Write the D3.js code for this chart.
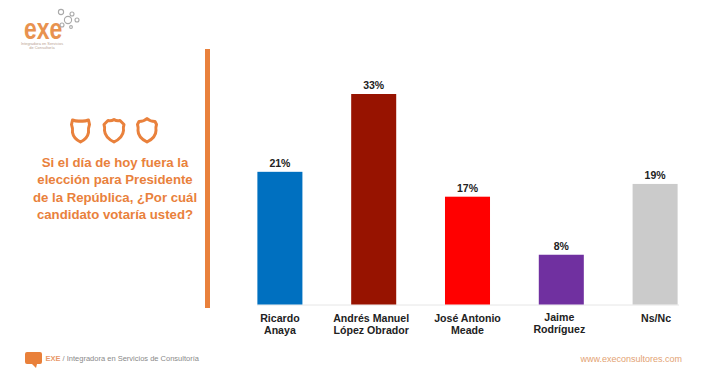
<!DOCTYPE html>
<html>
<head>
<meta charset="utf-8">
<script src="https://cdn.jsdelivr.net/npm/d3@7"></script>
<style>
  html, body { margin: 0; padding: 0; background: #fff; }
  text { font-family: "Liberation Sans", Arial, sans-serif; }
</style>
</head>
<body>
<div id="chart"></div>
<script>
const candidates = [["Ricardo", "Anaya"], ["Andrés Manuel", "López Obrador"], ["José Antonio", "Meade"], ["Jaime", "Rodríguez"], ["Ns/Nc"]];
const voteLabels = ["21%", "33%", "17%", "8%", "19%"];
// bar heights, a bit finer than the rounded labels
const votes = [20.8, 33, 16.9, 7.8, 18.9];
const barColors = ["#0070c0", "#971300", "#ff0000", "#7030a0", "#cbcbcb"];
const questionLines = ["Si el día de hoy fuera la", "elección para Presidente", "de la República, ¿Por cuál", "candidato votaría usted?"];
const orange = "#e9813c";

const outerWidth = 720, outerHeight = 372;
const svg = d3.select("#chart").append("svg")
    .attr("width", outerWidth)
    .attr("height", outerHeight)
    .style("display", "block");

// bars
const x = d3.scaleBand()
    .domain(d3.range(votes.length))
    .range([233, 702])
    .paddingInner(0.52)
    .paddingOuter(0.26);

const y = d3.scaleLinear()
    .domain([0, 33])
    .range([304.5, 94]);

svg.append("line")
    .attr("x1", 257).attr("x2", 679)
    .attr("y1", 305).attr("y2", 305)
    .attr("stroke", "#e6e6e6")
    .attr("stroke-width", 1);

svg.append("g")
  .selectAll("rect")
    .data(votes)
  .enter().append("rect")
    .attr("x", (d, i) => x(i))
    .attr("y", d => y(d))
    .attr("width", x.bandwidth())
    .attr("height", d => y(0) - y(d))
    .attr("fill", (d, i) => barColors[i]);

svg.append("g")
  .selectAll("text")
    .data(votes)
  .enter().append("text")
    .attr("x", (d, i) => x(i) + x.bandwidth() / 2)
    .attr("y", d => y(d) - 5)
    .attr("text-anchor", "middle")
    .attr("font-size", "10.5px")
    .attr("font-weight", "bold")
    .attr("fill", "#222")
    .text((d, i) => voteLabels[i]);

// the labels are not quite centred under the bars in the original
const labelShift = [0, -2.5, 0, -2, 1];

const labels = svg.append("g")
  .selectAll("text")
    .data(candidates)
  .enter().append("text")
    .attr("text-anchor", "middle")
    .attr("font-size", "10.6px")
    .attr("font-weight", "bold")
    .attr("fill", "#222");

labels.each(function(lines, i) {
  const top = i == 3 ? 320.5 : 321.5;
  d3.select(this).selectAll("tspan")
      .data(lines)
    .enter().append("tspan")
      .attr("x", x(i) + x.bandwidth() / 2 + labelShift[i])
      .attr("y", (d, j) => top + j * (i == 3 ? 12 : 12.5))
      .text(d => d);
});

// orange divider
svg.append("rect")
    .attr("x", 205).attr("y", 49)
    .attr("width", 5).attr("height", 259)
    .attr("fill", orange);

// shield icons, each one a little different
const shields = [
  { cx: 80.5, d: "M-8,-10.5 Q-4,-9 0,-9.5 Q4,-9 8,-10.5 L9,-6 Q7.5,-2 8,2 Q7,8 0,11.5 Q-7,8 -8,2 Q-7.5,-2 -9,-6 Z" },
  { cx: 114, d: "M-6,-10 Q-3,-9 0,-11 Q3,-9 6,-10 L10,-6 Q9,-3 9.5,0 Q9,7 0,11.5 Q-9,7 -9.5,0 Q-9,-3 -10,-6 Z" },
  { cx: 147, d: "M0,-12 Q3,-9 8,-9 L9.5,-6 Q8.5,-3 9,0 Q9,7 0,11.5 Q-9,7 -9,0 Q-8.5,-3 -9.5,-6 L-8,-9 Q-3,-9 0,-12 Z" }
];
svg.append("g")
  .selectAll("path")
    .data(shields)
  .enter().append("path")
    .attr("transform", d => "translate(" + d.cx + ",130.5)")
    .attr("d", d => d.d)
    .attr("fill", "none")
    .attr("stroke", orange)
    .attr("stroke-width", 3)
    .attr("stroke-linejoin", "round");

// question
svg.append("g")
  .selectAll("text")
    .data(questionLines)
  .enter().append("text")
    .attr("x", 115)
    .attr("y", (d, i) => 167 + i * 17.3)
    .attr("text-anchor", "middle")
    .attr("font-size", "13.2px")
    .attr("font-weight", "bold")
    .attr("fill", orange)
    .text(d => d);

// logo
svg.append("text")
    .attr("transform", "translate(24,39) scale(1,1.3)")
    .attr("font-size", "23px")
    .attr("font-weight", "bold")
    .attr("fill", "#e8924f")
    .text("exe");

svg.append("g")
  .selectAll("text")
    .data(["Integradora en Servicios", "de Consultoría"])
  .enter().append("text")
    .attr("x", 42)
    .attr("y", (d, i) => 44.5 + i * 4.2)
    .attr("text-anchor", "middle")
    .attr("font-size", "3.9px")
    .attr("fill", "#b9a392")
    .text(d => d);

svg.append("g")
  .selectAll("circle")
    .data([[61, 12, 2.6], [68, 20, 3.6], [72, 14, 2], [77, 20, 2], [62, 25, 2], [71, 27, 1.4]])
  .enter().append("circle")
    .attr("cx", d => d[0])
    .attr("cy", d => d[1])
    .attr("r", d => d[2])
    .attr("fill", "none")
    .attr("stroke", "#a9a9a9")
    .attr("stroke-width", 1.1);

// footer
svg.append("path")
    .attr("d", "M27,352 H40 Q42,352 42,354 V362 Q42,364 40,364 H37 L36,368 L32,364 H27 Q25,364 25,362 V354 Q25,352 27,352 Z")
    .attr("fill", "#e9803a");

const footer = svg.append("text")
    .attr("x", 45.5).attr("y", 361)
    .attr("font-size", "7.5px")
    .attr("fill", "#8a8a8a");

footer.append("tspan")
    .attr("font-weight", "bold")
    .attr("fill", "#e9996a")
    .text("EXE");

footer.append("tspan")
    .text(" / Integradora en Servicios de Consultoría");

svg.append("text")
    .attr("x", 682).attr("y", 361.5)
    .attr("text-anchor", "end")
    .attr("font-size", "9px")
    .attr("fill", "#e3a273")
    .text("www.execonsultores.com");
</script>
</body>
</html>
